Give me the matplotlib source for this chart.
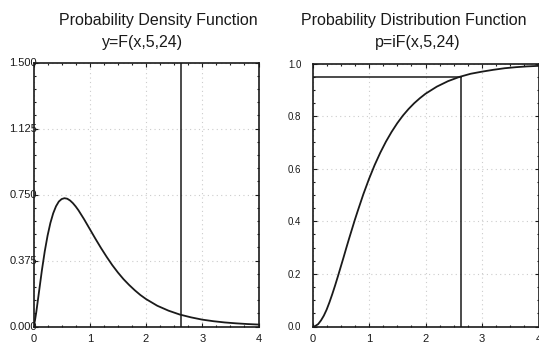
import matplotlib
matplotlib.use("Agg")
import matplotlib.pyplot as plt
from matplotlib.ticker import MultipleLocator

plt.rcParams['font.family'] = ['Liberation Sans', 'DejaVu Sans']

# F(5,24) density and cumulative values
x_vals = [0.0, 0.025, 0.05, 0.1, 0.15, 0.2, 0.25, 0.3, 0.35, 0.4, 0.45, 0.5, 0.55,
          0.6, 0.65, 0.7, 0.75, 0.8, 0.9, 1.0, 1.1, 1.2, 1.3, 1.4, 1.5, 1.6, 1.7,
          1.8, 1.9, 2.0, 2.2, 2.4, 2.6, 2.8, 3.0, 3.2, 3.4, 3.6, 3.8, 4.0]
pdf_vals = [0.0, 0.032, 0.083, 0.202, 0.321, 0.427, 0.516, 0.588, 0.643, 0.683,
            0.710, 0.724, 0.729, 0.726, 0.716, 0.701, 0.682, 0.660, 0.609, 0.554,
            0.499, 0.446, 0.396, 0.349, 0.307, 0.269, 0.236, 0.206, 0.179, 0.156,
            0.118, 0.090, 0.068, 0.052, 0.039, 0.030, 0.023, 0.018, 0.014, 0.011]
cdf_vals = [0.0, 0.0003, 0.002, 0.009, 0.023, 0.041, 0.064, 0.092, 0.123, 0.156,
            0.191, 0.227, 0.263, 0.300, 0.336, 0.371, 0.406, 0.439, 0.503, 0.561,
            0.614, 0.661, 0.703, 0.740, 0.773, 0.802, 0.827, 0.849, 0.868, 0.885,
            0.912, 0.933, 0.949, 0.961, 0.969, 0.976, 0.982, 0.986, 0.989, 0.991]
crit_x = 2.62
crit_p = 0.95

x_ticks = [0, 1, 2, 3, 4]
pdf_ticks = [0.0, 0.375, 0.75, 1.125, 1.5]
pdf_tick_labels = ['0.000', '0.375', '0.750', '1.125', '1.500']
cdf_ticks = [0.0, 0.2, 0.4, 0.6, 0.8, 1.0]
cdf_tick_labels = ['0.0', '0.2', '0.4', '0.6', '0.8', '1.0']

fig = plt.figure(figsize=(5.39, 3.43), dpi=100)
W, H = 539.0, 343.0

def make_ax(l, r, t, b):
    return fig.add_axes([l / W, 1 - b / H, (r - l) / W, (b - t) / H])

ax1 = make_ax(33.5, 258.5, 62.5, 326.5)
ax2 = make_ax(312.5, 538.5, 63.5, 326.5)

for ax in (ax1, ax2):
    ax.set_xlim(0, 4)
    ax.set_xticks(x_ticks)
    ax.xaxis.set_minor_locator(MultipleLocator(0.25))
    ax.tick_params(which='both', direction='in', top=True, right=True,
                   colors='#1a1a1a', labelcolor='#1a1a1a', width=0.8)
    ax.tick_params(which='major', length=3)
    ax.tick_params(which='minor', length=1.5)
    ax.tick_params(axis='x', pad=5.5, labelsize=8)
    ax.grid(True, which='major', color='#cccccc', linestyle=(0, (1, 3)), linewidth=0.8)
    for s in ax.spines.values():
        s.set_linewidth(1.2)
        s.set_color('#1a1a1a')
    ax.set_facecolor('white')

ax1.plot(x_vals, pdf_vals, color='#1a1a1a', linewidth=1.3)
ax1.axvline(crit_x, color='#1a1a1a', linewidth=1.1)
ax1.set_ylim(0, 1.5)
ax1.set_yticks(pdf_ticks)
ax1.set_yticklabels(pdf_tick_labels)
ax1.yaxis.set_minor_locator(MultipleLocator(0.075))
ax1.tick_params(axis='y', pad=-2.5, labelsize=8)

ax2.plot(x_vals, cdf_vals, color='#1a1a1a', linewidth=1.3)
ax2.plot([0, crit_x], [crit_p, crit_p], color='#1a1a1a', linewidth=1.1)
ax2.plot([crit_x, crit_x], [0, crit_p], color='#1a1a1a', linewidth=1.1)
ax2.set_ylim(0, 1.0)
ax2.set_yticks(cdf_ticks)
ax2.set_yticklabels(cdf_tick_labels)
ax2.yaxis.set_minor_locator(MultipleLocator(0.05))
ax2.tick_params(axis='y', pad=8, labelsize=7)

tc = '#1a1a1a'
fig.text(158 / W, 1 - 20 / H, 'Probability Density Function', ha='center', va='center', fontsize=11.5, color=tc)
fig.text(143 / W, 1 - 43 / H, 'y=F(x,5,24)', ha='center', va='center', fontsize=11.5, color=tc)
fig.text(414 / W, 1 - 20 / H, 'Probability Distribution Function', ha='center', va='center', fontsize=11.5, color=tc)
fig.text(418 / W, 1 - 43 / H, 'p=iF(x,5,24)', ha='center', va='center', fontsize=11.5, color=tc)

fig.savefig('out.png', dpi=100)
